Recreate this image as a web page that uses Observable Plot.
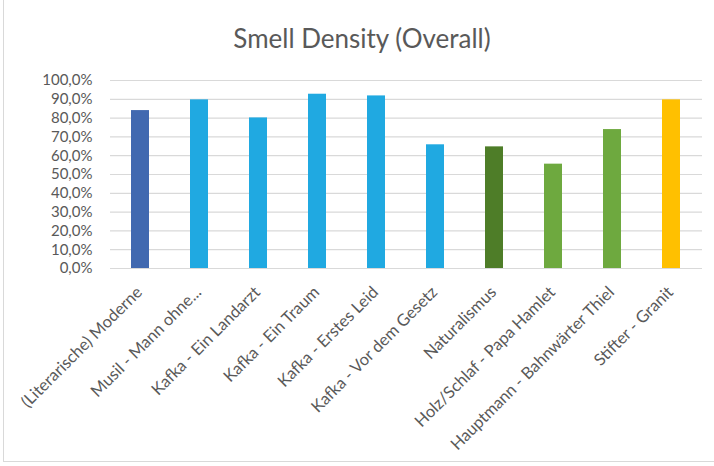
<!DOCTYPE html>
<html>
<head>
<meta charset="utf-8">
<script src="https://cdn.jsdelivr.net/npm/d3@7"></script>
<script src="https://cdn.jsdelivr.net/npm/@observablehq/plot@0.6"></script>
<style>
  html, body { margin: 0; padding: 0; background: #fff; }
  #wrap { position: relative; width: 714px; height: 466px; overflow: hidden; font-family: Lato, "Open Sans", sans-serif; }
  #frame { position: absolute; left: 3px; top: -2px; width: 720px; height: 463px; border-left: 1px solid #d9d9d9; border-bottom: 1px solid #d9d9d9; }
  #title { position: absolute; left: 0; top: 22px; width: 724px; text-align: center; font-size: 26px; color: #595959; }
  #chart { position: absolute; left: 0; top: 60px; }
</style>
</head>
<body>
<div id="wrap">
  <div id="frame"></div>
  <div id="title">Smell Density (Overall)</div>
  <div id="chart"></div>
</div>
<script>
const categories = [
  "(Literarische) Moderne",
  "Musil - Mann ohne...",
  "Kafka - Ein Landarzt",
  "Kafka - Ein Traum",
  "Kafka - Erstes Leid",
  "Kafka - Vor dem Gesetz",
  "Naturalismus",
  "Holz/Schlaf - Papa Hamlet",
  "Hauptmann - Bahnwärter Thiel",
  "Stifter - Granit"
];
const values = [84.0, 89.7, 80.1, 92.7, 91.8, 65.8, 64.7, 55.5, 73.9, 89.7];
const groups = ["Moderne", "Moderne-Text", "Moderne-Text", "Moderne-Text", "Moderne-Text", "Moderne-Text",
                "Naturalismus", "Naturalismus-Text", "Naturalismus-Text", "Realismus"];
const yTicks = [0, 10, 20, 30, 40, 50, 60, 70, 80, 90, 100];

const data = categories.map((c, i) => ({category: c, value: values[i], group: groups[i]}));
const fmt = d => d.toFixed(1).replace(".", ",") + "%";

const chart = Plot.plot({
  width: 714,
  height: 402,
  marginLeft: 110,
  marginRight: 12,
  marginTop: 20,
  marginBottom: 194,
  style: {fontFamily: "Lato, 'Open Sans', sans-serif", color: "#595959", background: "transparent"},
  x: {domain: categories, paddingInner: 0.69, paddingOuter: 0.345, label: null},
  y: {domain: [0, 100], label: null},
  color: {
    domain: ["Moderne", "Moderne-Text", "Naturalismus", "Naturalismus-Text", "Realismus"],
    range: ["#4169b0", "#20a9e1", "#4e7d28", "#6ea93f", "#ffc000"]
  },
  marks: [
    Plot.gridY(yTicks, {stroke: "#d9d9d9", strokeOpacity: 1, strokeWidth: 1.2}),
    Plot.barY(data, {x: "category", y: "value", fill: "group"}),
    Plot.axisY(yTicks, {tickSize: 0, tickPadding: 18, tickFormat: fmt, fontSize: 15, fill: "#595959"}),
    Plot.axisX({tickSize: 0, tickRotate: -45, tickPadding: 21, dx: -1, fontSize: 16.5, fill: "#595959"})
  ]
});
document.getElementById("chart").appendChild(chart);
</script>
</body>
</html>
